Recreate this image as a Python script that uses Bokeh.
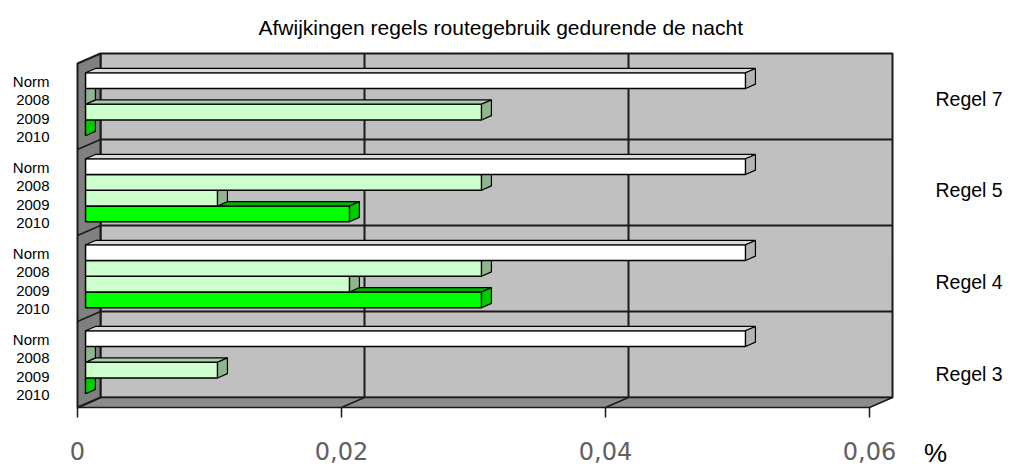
from bokeh.plotting import figure
from bokeh.models import Range1d, LinearAxis, FixedTicker, Label
from bokeh.embed import file_html
from bokeh.resources import INLINE

# ---------------- data ----------------
title_text = "Afwijkingen regels routegebruik gedurende de nacht"
groups = ["Regel 3", "Regel 4", "Regel 5", "Regel 7"]      # bottom -> top
series = ["Norm", "2008", "2009", "2010"]                  # top -> bottom inside a group
norm = [0.05, 0.05, 0.05, 0.05]
v2008 = [0.0, 0.03, 0.03, 0.0]
v2009 = [0.01, 0.02, 0.01, 0.03]
v2010 = [0.0, 0.03, 0.02, 0.0]
x_ticks = [0.0, 0.02, 0.04, 0.06]
x_tick_labels = ["0", "0,02", "0,04", "0,06"]
unit_label = "%"

values = [norm, v2008, v2009, v2010]
front_col = ["#FFFFFF", "#CCFFCC", "#CCFFCC", "#00FF00"]
top_col = ["#DADADA", "#A8CFA8", "#A8CFA8", "#00B400"]
side_col = ["#B4B4B4", "#8FB48F", "#8FB48F", "#00CC00"]

# ---------------- layout ----------------
W, H = 1011, 469
ML, MR, MT, MB = 70, 0, 43, 0
FW, FH = W - ML - MR, H - MT - MB
PXV = 13200.0          # px per value unit
PXG = 86.0             # px per group
X0 = 7.0               # px from frame left to value 0 (front plane)
FLOOR = 364.0          # px from frame top to the front floor edge
DX, DY = 23.0, 10.0    # full depth offset in px
dzx, dzy = DX / PXV, DY / PXG
Z0, Z1 = 0.35, 0.78    # bar depth
TOP_OFF, SLOT = 0.148, 0.183
xmax = x_ticks[-1]
ng = len(groups)

p = figure(width=W, height=H, output_backend="svg", toolbar_location=None,
           x_range=Range1d(-X0 / PXV, (FW - X0) / PXV),
           y_range=Range1d(-(FH - FLOOR) / PXG, FLOOR / PXG),
           min_border_left=ML, min_border_right=MR, min_border_top=MT, min_border_bottom=MB)
p.outline_line_color = None
p.xgrid.visible = False
p.ygrid.visible = False
p.background_fill_color = "white"
p.border_fill_color = "white"


def proj(v, y, z):
    return v + z * dzx, y + z * dzy


# back wall
p.quad(left=[dzx], right=[xmax + dzx], bottom=[dzy], top=[ng + dzy],
       fill_color="#C0C0C0", line_color="#1A1A1A", line_width=2)
# floor
fl = [proj(0, 0, 0), proj(xmax, 0, 0), proj(xmax, 0, 1), proj(0, 0, 1)]
p.patch([a for a, b in fl], [b for a, b in fl], fill_color="#8C8C8C", line_color="#1A1A1A", line_width=1.5)
# left wall
lw = [proj(0, 0, 0), proj(0, 0, 1), proj(0, ng, 1), proj(0, ng, 0)]
p.patch([a for a, b in lw], [b for a, b in lw], fill_color="#808080", line_color="#1A1A1A", line_width=2)

# gridlines
inner = x_ticks[1:-1]
p.segment(x0=[t + dzx for t in inner], y0=[dzy] * len(inner), x1=[t + dzx for t in inner],
          y1=[ng + dzy] * len(inner), line_color="#1A1A1A", line_width=2)
p.segment(x0=[t for t in inner], y0=[0] * len(inner), x1=[t + dzx for t in inner],
          y1=[dzy] * len(inner), line_color="#1A1A1A", line_width=1.5)
hb = list(range(1, ng))
p.segment(x0=[dzx] * len(hb), y0=[h + dzy for h in hb], x1=[xmax + dzx] * len(hb),
          y1=[h + dzy for h in hb], line_color="#1A1A1A", line_width=2)
p.segment(x0=[0] * len(hb), y0=hb, x1=[dzx] * len(hb), y1=[h + dzy for h in hb],
          line_color="#1A1A1A", line_width=1.5)

# bars: draw from the lowest series to the top one so upper bars hide lower top faces
for i in reversed(range(len(series))):
    L, R, B, T = [], [], [], []
    txs, tys, sxs, sys_ = [], [], [], []
    for g in range(ng):
        v = values[i][g]
        yt = g + 1 - TOP_OFF - SLOT * i
        yb = yt - SLOT
        a0 = proj(0, yt, Z0)
        a1 = proj(v, yb, Z0)
        L.append(a0[0]); R.append(a1[0]); B.append(a1[1]); T.append(a0[1])
        tf = [proj(0, yt, Z0), proj(v, yt, Z0), proj(v, yt, Z1), proj(0, yt, Z1)]
        sf = [proj(v, yt, Z0), proj(v, yb, Z0), proj(v, yb, Z1), proj(v, yt, Z1)]
        txs.append([q[0] for q in tf]); tys.append([q[1] for q in tf])
        sxs.append([q[0] for q in sf]); sys_.append([q[1] for q in sf])
    p.quad(left=L, right=R, bottom=B, top=T, fill_color=front_col[i], line_color="black", line_width=1.5)
    p.patches(txs, tys, fill_color=top_col[i], line_color="black", line_width=1.2)
    p.patches(sxs, sys_, fill_color=side_col[i], line_color="black", line_width=1.2)

# bottom axis (front plane value scale), drawn at the floor's front edge
xa = p.xaxis[0]
xa.fixed_location = 0
xa.ticker = FixedTicker(ticks=x_ticks)
xa.major_label_overrides = {t: s for t, s in zip(x_ticks, x_tick_labels)}
xa.axis_line_color = None
xa.major_tick_in = 0
xa.major_tick_out = 10
xa.major_tick_line_color = "#1A1A1A"
xa.major_tick_line_width = 1.5
xa.minor_tick_line_color = None
xa.major_label_standoff = 24
xa.major_label_text_font = "DejaVu Sans"
xa.major_label_text_font_size = "24px"
xa.major_label_text_color = "#606060"

# left axis: series labels per group
ya = p.yaxis[0]
lt, ll = [], []
for g in range(ng):
    for i, s in enumerate(series):
        y = g + 1 - 0.21 - 0.212 * i
        lt.append(y); ll.append(s)
ya.ticker = FixedTicker(ticks=lt)
ya.major_label_overrides = {t: s for t, s in zip(lt, ll)}
ya.axis_line_color = None
ya.major_tick_line_color = None
ya.minor_tick_line_color = None
ya.major_tick_in = 0
ya.major_tick_out = 0
ya.major_label_standoff = 21
ya.major_label_text_font = "Liberation Sans"
ya.major_label_text_font_size = "15px"
ya.major_label_text_color = "black"

# right axis: group labels, placed right of the chart
rt = [0.395 + g * 1.066 for g in range(ng)]
ra = LinearAxis(ticker=FixedTicker(ticks=rt), fixed_location=(930 - ML - X0) / PXV)
ra.major_label_overrides = {t: s for t, s in zip(rt, groups)}
ra.axis_line_color = None
ra.major_tick_line_color = None
ra.minor_tick_line_color = None
ra.major_tick_in = 0
ra.major_tick_out = 0
ra.major_label_standoff = 5
ra.major_label_text_font = "Liberation Sans"
ra.major_label_text_font_size = "19.5px"
ra.major_label_text_color = "black"
p.add_layout(ra, "right")

# unit label
p.add_layout(Label(x=(935 - ML - X0) / PXV, y=-45 / PXG, text=unit_label,
                   text_font="Liberation Sans", text_font_size="26px",
                   text_align="center", text_baseline="middle", text_color="black"))

# title
p.title.text = title_text
p.title.align = "left"
p.title.offset = 188
p.title.standoff = 10
p.title.text_font = "Liberation Sans"
p.title.text_font_size = "21px"
p.title.text_font_style = "normal"
p.title.text_color = "black"

open("out.html", "w").write(file_html(p, INLINE))
